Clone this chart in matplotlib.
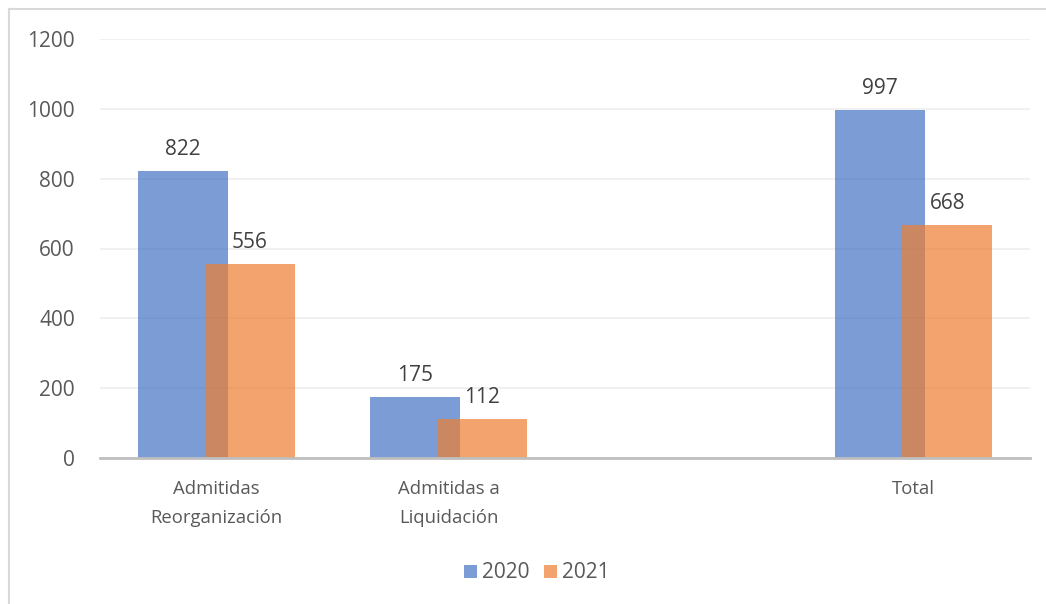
import numpy as np
import matplotlib.pyplot as plt
from matplotlib.lines import Line2D

# data
categories = ['Admitidas\nReorganización', 'Admitidas a\nLiquidación', '', 'Total']
values_2020 = [822, 175, None, 997]
values_2021 = [556, 112, None, 668]
series_names = ['2020', '2021']
y_ticks = [0, 200, 400, 600, 800, 1000, 1200]

blue = '#4472C4'
orange = '#ED7D31'
W, H = 1046, 604

plt.rcParams['font.family'] = ['Open Sans', 'DejaVu Sans']

fig = plt.figure(figsize=(W / 100, H / 100), dpi=100)
ax = fig.add_axes([100 / W, 1 - 458 / H, 930 / W, 419 / H])

x = np.arange(len(categories))
width = 0.387
off = 0.145

def clean(vals):
    return [np.nan if v is None else v for v in vals]

b1 = ax.bar(x - off, clean(values_2020), width, color=blue, alpha=0.7, label=series_names[0], zorder=2)
b2 = ax.bar(x + off, clean(values_2021), width, color=orange, alpha=0.7, label=series_names[1], zorder=3)

for bars, vals in ((b1, values_2020), (b2, values_2021)):
    for rect, v in zip(bars, vals):
        if v is None:
            continue
        ax.annotate(str(v), (rect.get_x() + rect.get_width() / 2, v),
                    xytext=(0, 8), textcoords='offset points',
                    ha='center', va='bottom', fontsize=15, color='#404040')

ax.set_xlim(-0.5, 3.5)
ax.set_ylim(0, 1200)
ax.set_yticks(y_ticks)
ax.set_xticks(x)
ax.set_xticklabels(categories, fontsize=13.3, color='#595959', linespacing=1.8)
ax.tick_params(axis='y', length=0, pad=18, labelsize=15, labelcolor='#595959')
ax.tick_params(axis='x', length=0, pad=16)
ax.grid(axis='y', color='#eeeeee', linewidth=1.2, zorder=0)
ax.set_axisbelow(True)
for s in ['top', 'right', 'left']:
    ax.spines[s].set_visible(False)
ax.spines['bottom'].set_color('#bfbfbf')
ax.spines['bottom'].set_linewidth(2)
ax.spines['bottom'].set_zorder(4)

leg = fig.legend(handles=[b1, b2], labels=series_names, loc='center',
                 bbox_to_anchor=(537 / W, 1 - 573 / H), ncol=2, frameon=False,
                 fontsize=15, handlelength=0.6, handleheight=0.6,
                 handletextpad=0.25, columnspacing=0.7)
for t in leg.get_texts():
    t.set_color('#595959')

# outer chart frame (top and left edges visible)
fig.add_artist(Line2D([9 / W, 1], [1 - 9 / H, 1 - 9 / H], color='#d9d9d9', linewidth=1.5))
fig.add_artist(Line2D([9 / W, 9 / W], [0, 1 - 9 / H], color='#d9d9d9', linewidth=1.5))

fig.savefig('out.png', dpi=100)
